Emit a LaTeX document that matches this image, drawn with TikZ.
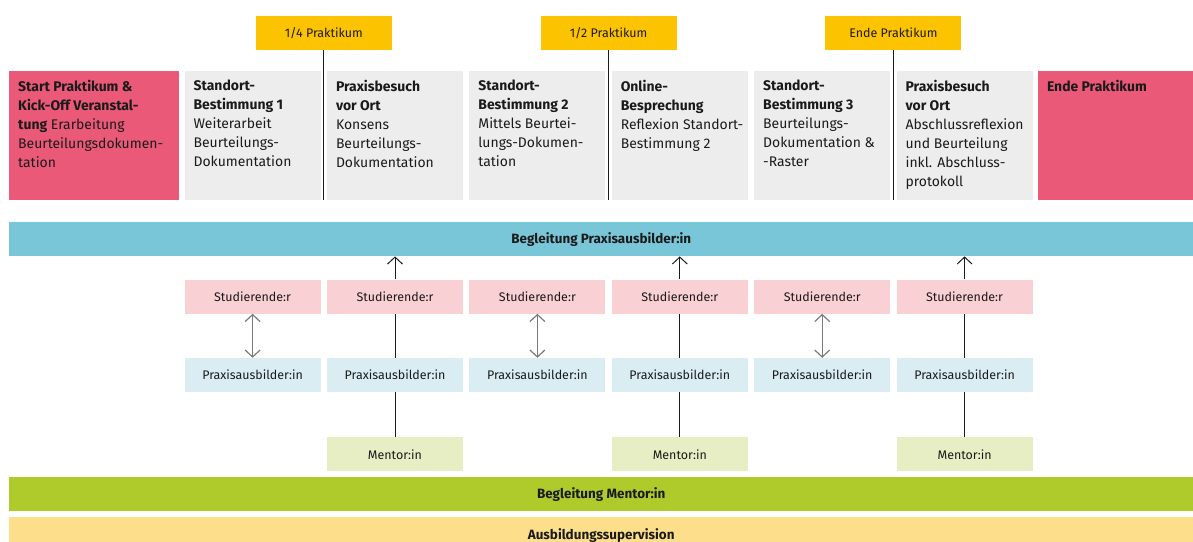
\documentclass[tikz,border=0pt]{standalone}
\usepackage{fontspec}
\setmainfont{Fira Sans}
\usepackage{tikz}
\usetikzlibrary{arrows.meta,positioning,calc}
\definecolor{phpink}{HTML}{EA5A78}
\definecolor{phgrey}{HTML}{EDEDED}
\definecolor{msyellow}{HTML}{FCC300}
\definecolor{barblue}{HTML}{7AC6D9}
\definecolor{bargreen}{HTML}{AFCA2B}
\definecolor{baryellow}{HTML}{FDDF8B}
\definecolor{studpink}{HTML}{F9D0D4}
\definecolor{praxblue}{HTML}{DAEDF3}
\definecolor{mentgreen}{HTML}{E8EEC4}
\definecolor{txtdark}{HTML}{1A1A1A}
\definecolor{argrey}{HTML}{7A7A7A}
\newcommand{\ph}[2][118bp]{\parbox[t][111bp][t]{#1}{\raggedright #2}}

\begin{document}
\begin{tikzpicture}[x=1bp, y=-1bp, node distance=6bp, text=txtdark,
  phase/.style={fill=phgrey, inner xsep=9bp, inner ysep=9bp, anchor=north west,
    font=\fontsize{14}{19}\selectfont},
  kick/.style={phase, fill=phpink},
  milestone/.style={fill=msyellow, minimum width=136bp, minimum height=34bp, inner sep=0pt,
    font=\fontsize{12.5}{15}\selectfont},
  bar/.style={anchor=north west, minimum width=1184bp, minimum height=34bp, inner sep=0pt,
    font=\bfseries\fontsize{13.5}{15}\selectfont},
  role/.style={minimum width=136bp, minimum height=34bp, inner sep=0pt,
    font=\fontsize{12.5}{15}\selectfont},
  stud/.style={role, fill=studpink},
  prax/.style={role, fill=praxblue},
  ment/.style={role, fill=mentgreen},
  tick/.style={line width=1.2pt, draw=txtdark},
  ar/.style={-{Straight Barb[length=7pt, width=15pt]}, line width=1pt, draw=txtdark},
  dar/.style={{Straight Barb[length=7pt, width=15pt]}-{Straight Barb[length=7pt, width=15pt]},
    line width=1.2pt, draw=argrey}]
  \useasboundingbox (0,0) rectangle (1193,542);
  \clip (0,0) rectangle (1193,542);
  % phases of the Praktikum
  \node[kick] (p1) at (9,71) {\ph[152bp]{\textbf{Start Praktikum \&}\\ \textbf{Kick-Off Veranstal-}\\
    \textbf{tung} Erarbeitung\\ Beurteilungsdokumen-\\ tation}};
  \node[phase, right=5bp of p1.north east, anchor=north west] (p2) {\ph{\textbf{Standort-}\\ \textbf{Bestimmung 1}\\
    Weiterarbeit\\ Beurteilungs-\\ Dokumentation}};
  \node[phase, right=of p2.north east, anchor=north west] (p3) {\ph{\textbf{Praxisbesuch}\\ \textbf{vor Ort}\\
    Konsens\\ Beurteilungs-\\ Dokumentation}};
  \node[phase, right=of p3.north east, anchor=north west] (p4) {\ph{\textbf{Standort-}\\ \textbf{Bestimmung 2}\\
    Mittels Beurtei-\\ lungs-Dokumen-\\ tation}};
  \node[phase, right=of p4.north east, anchor=north west] (p5) {\ph{\textbf{Online-}\\ \textbf{Besprechung}\\
    \mbox{Reflexion Standort-}\\ Bestimmung 2}};
  \node[phase, right=of p5.north east, anchor=north west] (p6) {\ph{\textbf{Standort-}\\ \textbf{Bestimmung 3}\\
    Beurteilungs-\\ Dokumentation \&\\ -Raster}};
  \node[phase, right=of p6.north east, anchor=north west] (p7) {\ph{\textbf{Praxisbesuch}\\ \textbf{vor Ort}\\
    Abschlussreflexion\\ und Beurteilung\\ inkl. Abschluss-\\ protokoll}};
  \node[kick, right=5bp of p7.north east, anchor=north west] (p8) {\ph[140bp]{\textbf{Ende Praktikum}}};
  % milestones
  \node[milestone, above=21bp of {$(p2.north east)!0.5!(p3.north west)$}] (q1) {1/4 Praktikum};
  \node[milestone, above=21bp of {$(p4.north east)!0.5!(p5.north west)$}] (q2) {1/2 Praktikum};
  \node[milestone, above=21bp of {$(p6.north east)!0.5!(p7.north west)$}] (q3) {Ende Praktikum};
  \foreach \q/\p in {q1/p2,q2/p4,q3/p6} \draw[tick] (\q.south) -- (\q.south |- \p.south);
  % Begleitung
  \node[bar, fill=barblue] (bpa) at (9,222) {Begleitung Praxisausbilder:in};
  \node[bar, fill=bargreen] (bme) at (9,477) {Begleitung Mentor:in};
  \node[bar, fill=baryellow, minimum height=37bp] (bsv) at (9,517) {Ausbildungssupervision};
  % roles per phase
  \foreach \i/\p in {1/p2,2/p3,3/p4,4/p5,5/p6,6/p7} {
    \node[stud, below=79bp of \p] (s\i) {Studierende:r};
    \node[prax, below=44bp of s\i] (a\i) {Praxisausbilder:in};
  }
  \foreach \i in {2,4,6} \node[ment, below=45bp of a\i] (m\i) {Mentor:in};
  \foreach \i in {1,3,5} \draw[dar] (s\i) -- (a\i);
  \foreach \i in {2,4,6} {
    \draw[tick, line width=1pt] (m\i) -- (a\i);
    \draw[tick, line width=1pt] (a\i) -- (s\i);
    \draw[ar] (s\i.north) -- (s\i.north |- bpa.south);
  }
\end{tikzpicture}
\end{document}
